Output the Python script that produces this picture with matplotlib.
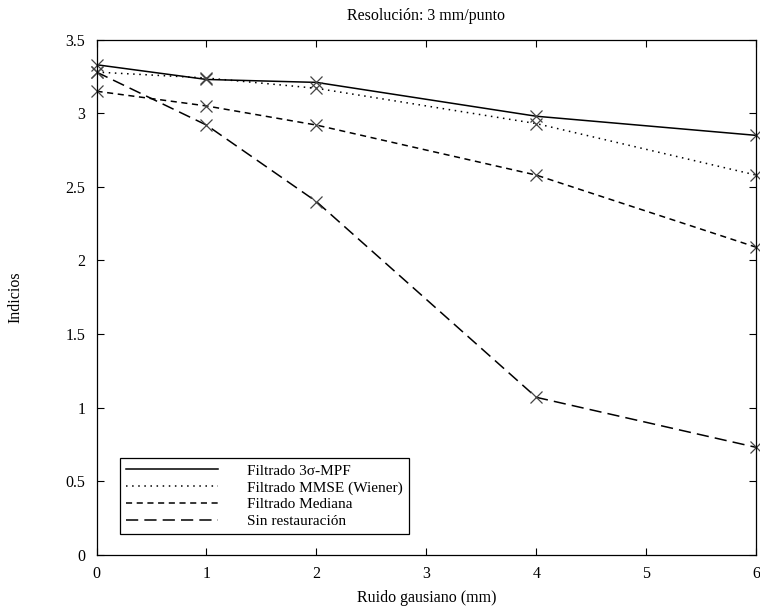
import matplotlib
matplotlib.use("Agg")
import matplotlib.pyplot as plt

plt.rcParams['font.family'] = ['Liberation Serif', 'DejaVu Serif']
plt.rcParams['mathtext.fontset'] = 'stix'

ruido = [0, 1, 2, 4, 6]
mpf = [3.33, 3.23, 3.21, 2.98, 2.85]
mmse = [3.28, 3.24, 3.17, 2.93, 2.58]
mediana = [3.15, 3.05, 2.92, 2.58, 2.09]
sin_rest = [3.28, 2.92, 2.40, 1.07, 0.73]

etiquetas = ["Filtrado 3σ-MPF", "Filtrado MMSE (Wiener)",
             "Filtrado Mediana", "Sin restauración"]
estilos = ['-', (0, (1, 3)), (0, (4, 3)), (0, (8, 4))]
series = [mpf, mmse, mediana, sin_rest]

fig = plt.figure(figsize=(7.6, 6.11), dpi=100)
ax = fig.add_axes([0.127, 0.092, 0.868, 0.843])

handles = []
for valores, estilo, etiqueta in zip(series, estilos, etiquetas):
    ln, = ax.plot(ruido, valores, linestyle=estilo, color='black', lw=1.1,
                  label=etiqueta)
    ax.plot(ruido, valores, linestyle='none', marker='x', ms=9, mew=0.9,
            color='#444444', clip_on=False)
    handles.append(ln)

ax.set_xlim(0, 6)
ax.set_ylim(0, 3.5)
ax.set_xticks(range(0, 7))
ax.set_yticks([0, 0.5, 1, 1.5, 2, 2.5, 3, 3.5])
ax.set_yticklabels(['0', '0.5', '1', '1.5', '2', '2.5', '3', '3.5'])
ax.tick_params(direction='in', top=True, right=True, length=5,
               labelsize=11.5, pad=8)
for s in ax.spines.values():
    s.set_linewidth(0.9)

ax.set_title("Resolución: 3 mm/punto", fontsize=11.5, pad=14)
ax.set_xlabel("Ruido gausiano (mm)", fontsize=11.5, labelpad=6)
ax.set_ylabel("Indicios", fontsize=11.5, labelpad=30)

leg = ax.legend(handles=handles, loc='lower left',
                bbox_to_anchor=(0.036, 0.04), fontsize=11, frameon=True,
                fancybox=False, edgecolor='black', framealpha=1,
                handlelength=6.0, borderpad=0.4, labelspacing=0.2,
                handletextpad=1.9, borderaxespad=0)
leg.get_frame().set_linewidth(0.9)

fig.savefig("out.png", dpi=100)
